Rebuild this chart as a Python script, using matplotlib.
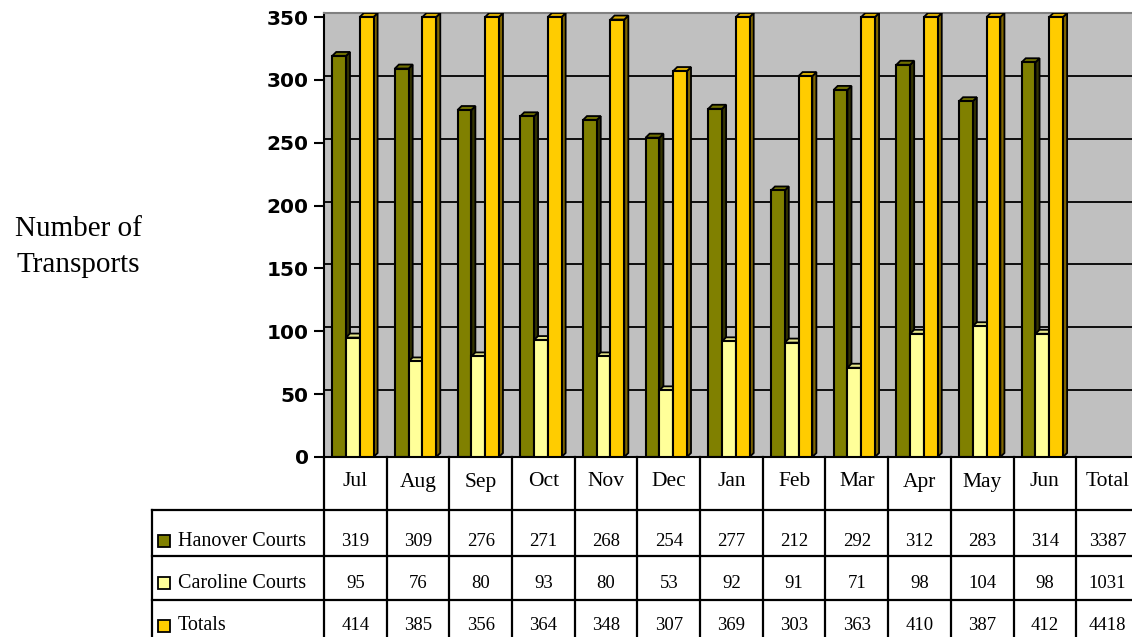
import numpy as np
import matplotlib.pyplot as plt
from matplotlib.patches import Polygon, Rectangle
from matplotlib.lines import Line2D
from matplotlib.transforms import blended_transform_factory

months = ["Jul", "Aug", "Sep", "Oct", "Nov", "Dec", "Jan", "Feb", "Mar", "Apr", "May", "Jun"]
hanover = [319, 309, 276, 271, 268, 254, 277, 212, 292, 312, 283, 314]
caroline = [95, 76, 80, 93, 80, 53, 92, 91, 71, 98, 104, 98]
totals = [414, 385, 356, 364, 348, 307, 369, 303, 363, 410, 387, 412]
row_totals = [3387, 1031, 4418]
series_names = ["Hanover Courts", "Caroline Courts", "Totals"]
series = [hanover, caroline, totals]
colors = ["#808000", "#FFFF99", "#FFCC00"]
side_colors = ["#333300", "#999966", "#806600"]
top_colors = ["#707000", "#E6E68A", "#D9AD00"]

W, H = 1132, 637
ymax = 350
fig = plt.figure(figsize=(W / 100, H / 100), dpi=100)
ax = fig.add_axes([324 / W, 1 - 457 / H, 1 - 324 / W, (457 - 13) / H])

# depth of the fake 3d bars (in data units)
dx = 0.065
dy = 3.2
width = 0.22
offsets = [-0.26, -0.04, 0.18]

ax.set_xlim(-0.5, 12.39)
ax.set_ylim(0, ymax + dy)
ax.set_facecolor("#C0C0C0")

for v in range(50, ymax + 1, 50):
    ax.plot([-0.5, 13], [v + dy, v + dy], color="black", lw=1.3, zorder=1)


def bar3d(x, h, color, side, top, z):
    h = min(h, ymax)
    l, r = x - width / 2, x + width / 2
    ax.add_patch(Polygon([(r, 0), (r + dx, dy), (r + dx, h + dy), (r, h)],
                         fc=side, ec="black", lw=1.3, zorder=z))
    ax.add_patch(Polygon([(l, h), (l + dx, h + dy), (r + dx, h + dy), (r, h)],
                         fc=top, ec="black", lw=1.3, zorder=z))
    ax.add_patch(Rectangle((l, 0), width, h, fc=color, ec="black", lw=1.5, zorder=z))


for i in range(len(months)):
    for k, vals in enumerate(series):
        bar3d(i + offsets[k], vals[i], colors[k], side_colors[k], top_colors[k], 2 + k)

ax.set_xticks([])
ax.set_yticks(range(0, ymax + 1, 50))
ax.tick_params(axis="y", length=7, width=1.5, pad=4, labelsize=14.5)
for lab in ax.get_yticklabels():
    lab.set_fontweight("bold")
ax.spines["left"].set_linewidth(1.5)
ax.spines["bottom"].set_linewidth(1.5)
ax.spines["top"].set_color("#808080")
ax.spines["top"].set_linewidth(1.5)
ax.spines["right"].set_visible(False)

fig.text(78 / W, 1 - 247 / H, "Number of\nTransports", family="Liberation Serif",
         fontsize=21, ha="center", va="center", linespacing=1.55)

# data table below the axis
tr = blended_transform_factory(ax.transData, fig.transFigure)
fy = lambda y: 1 - y / H
serif = "Liberation Serif"
lw = 1.6

for i in range(len(months) + 1):
    fig.add_artist(Line2D([i - 0.5, i - 0.5], [fy(457), fy(H + 5)], transform=tr,
                          color="black", lw=lw, clip_on=False))
for y in [510, 556, 600]:
    fig.add_artist(Line2D([152 / W, 1], [fy(y), fy(y)], transform=fig.transFigure,
                          color="black", lw=lw))
fig.add_artist(Line2D([152 / W, 152 / W], [fy(510), fy(H + 5)], transform=fig.transFigure,
                      color="black", lw=lw))

for i, m in enumerate(months + ["Total"]):
    fig.text(i, fy(482), m, transform=tr, family=serif, fontsize=15.5, ha="center", va="center")

row_y = [541, 583, 626]
for k, vals in enumerate(series):
    for i, v in enumerate(vals + [row_totals[k]]):
        fig.text(i, fy(row_y[k]), str(v), transform=tr, family=serif, fontsize=13.5,
                 ha="center", va="center")
    fig.add_artist(Rectangle((158 / W, fy(row_y[k] + 6)), 12 / W, 12 / H, fc=colors[k],
                             ec="black", lw=1.3, transform=fig.transFigure))
    fig.text(178 / W, fy(row_y[k]), series_names[k], family=serif, fontsize=14.5,
             ha="left", va="center")

fig.savefig("out.png", dpi=100)
